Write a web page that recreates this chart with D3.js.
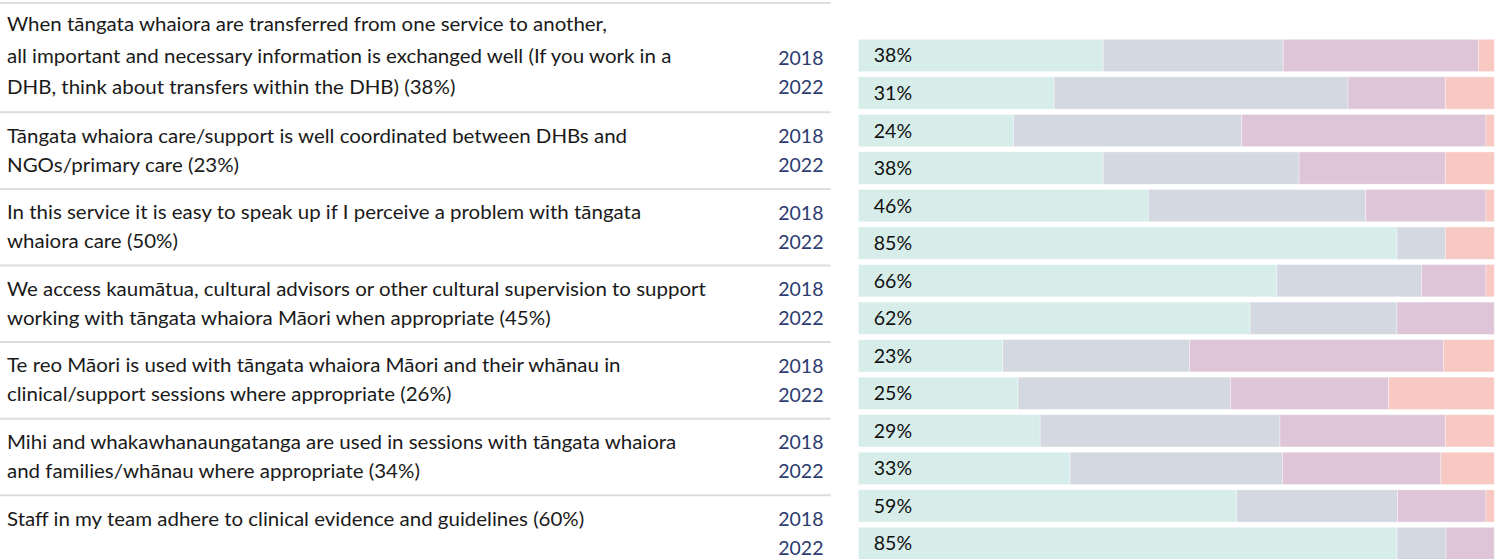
<!DOCTYPE html>
<html><head><meta charset="utf-8">
<script src="https://cdn.jsdelivr.net/npm/d3@7"></script>
<style>html,body{margin:0;padding:0;background:#fff;overflow:hidden;font-family:Lato;} svg{display:block;}</style>
</head><body><svg id="chart" width="1498" height="559"></svg>
<script>
// ---------------- DATA ----------------
const questions = [
  ["When tāngata whaiora are transferred from one service to another,",
   "all important and necessary information is exchanged well (If you work in a",
   "DHB, think about transfers within the DHB) (38%)"],
  ["Tāngata whaiora care/support is well coordinated between DHBs and",
   "NGOs/primary care (23%)"],
  ["In this service it is easy to speak up if I perceive a problem with tāngata",
   "whaiora care (50%)"],
  ["We access kaumātua, cultural advisors or other cultural supervision to support",
   "working with tāngata whaiora Māori when appropriate (45%)"],
  ["Te reo Māori is used with tāngata whaiora Māori and their whānau in",
   "clinical/support sessions where appropriate (26%)"],
  ["Mihi and whakawhanaungatanga are used in sessions with tāngata whaiora",
   "and families/whānau where appropriate (34%)"],
  ["Staff in my team adhere to clinical evidence and guidelines (60%)"]
];
const years = ["2018", "2022"];
const seriesKeys = ["agree", "neutral", "disagree", "stronglyDisagree"];
// one value per bar, in order Q1-2018, Q1-2022, Q2-2018, ...
const agree            = [38.5, 30.8, 24.4, 38.5, 45.6, 84.7, 65.8, 61.6, 22.7, 25.1, 28.6, 33.3, 59.5, 84.7];
const neutral          = [28.3, 46.2, 35.9, 30.8, 34.2,  7.6, 22.8, 23.1, 29.4, 33.4, 37.7, 33.4, 25.3,  7.7];
const disagree         = [30.7, 15.3, 38.4, 23.0, 18.9,  0.0, 10.1, 15.3, 39.9, 24.9, 26.0, 24.9, 13.9,  7.6];
const stronglyDisagree = [ 2.5,  7.7,  1.3,  7.7,  1.3,  7.7,  1.3,  0.0,  8.0, 16.6,  7.7,  8.4,  1.3,  0.0];
const pctLabels = ["38%","31%","24%","38%","46%","85%","66%","62%","23%","25%","29%","33%","59%","85%"];

// ---------------- STYLE ----------------
const colors = {agree:"#D7EDEA", neutral:"#D4D8E1", disagree:"#DEC6D8", stronglyDisagree:"#F8C9C3"};
const FONT = "Lato, 'Open Sans', sans-serif";
const FS = 19.5;
const TARGET_W = 703;   // reference width of the widest label line

const svg = d3.select("#chart");

const rows = agree.map((v, i) => ({
  i, q: Math.floor(i / 2), year: years[i % 2],
  agree: agree[i], neutral: neutral[i], disagree: disagree[i], stronglyDisagree: stronglyDisagree[i],
  label: pctLabels[i]
}));

const x = d3.scaleLinear().domain([0, 100]).range([858.3, 1494.3]);
const step = 37.54;
const y = d3.scaleBand().domain(rows.map(d => d.i))
  .range([39.3 - 0.07 * step, 39.3 - 0.07 * step + 14 * step])
  .paddingInner(0.14).paddingOuter(0.07);

const groupTop = d3.scaleLinear().domain([1, 6]).range([112.3, 112.3 + 5 * 76.6]);
const gTop = k => k === 0 ? 3 : groupTop(k);

// separators
svg.append("g").selectAll("line").data(questions).join("line")
  .attr("x1", 0).attr("x2", 830.7)
  .attr("y1", (d, k) => gTop(k)).attr("y2", (d, k) => gTop(k))
  .attr("stroke", "#DDDDDD").attr("stroke-width", 2);

// question text
const qLines = [];
questions.forEach((lines, k) => lines.forEach((t, j) => qLines.push({
  t, yy: k === 0 ? gTop(k) + 21 + j * 31.5 : gTop(k) + 23.2 + j * 29
})));
const qText = svg.append("g").attr("font-family", FONT).attr("font-size", FS).attr("fill", "#1a1a1a")
  .selectAll("text").data(qLines).join("text")
  .attr("dy", "0.36em")
  .text(d => d.t);

function fit() {
  let maxW = 0;
  qText.each(function () { maxW = Math.max(maxW, this.getComputedTextLength()); });
  const sx = maxW > 0 ? Math.min(1.05, TARGET_W / maxW) : 1;
  qText.attr("transform", d => `translate(7,${d.yy}) scale(${sx},1)`);
}
fit();
requestAnimationFrame(fit);
setTimeout(fit, 60);
setTimeout(fit, 300);
setTimeout(fit, 1000);
if (document.fonts && document.fonts.ready) document.fonts.ready.then(fit);

// years
svg.append("g").attr("font-family", FONT).attr("font-size", FS).attr("fill", "#2C3B70")
  .selectAll("text").data(rows).join("text")
  .attr("x", 823.5).attr("text-anchor", "end")
  .attr("y", d => gTop(d.q) + (d.q === 0 ? 55 : 23.7) + (d.i % 2) * 29)
  .attr("dy", "0.36em")
  .text(d => d.year);

// stacked bars
const stack = d3.stack().keys(seriesKeys)(rows);
svg.append("g").selectAll("g").data(stack).join("g")
  .attr("fill", s => colors[s.key])
  .selectAll("rect").data(s => s).join("rect")
  .attr("x", d => x(d[0]))
  .attr("width", d => Math.max(0, x(d[1]) - x(d[0])))
  .attr("y", d => y(d.data.i))
  .attr("height", y.bandwidth())
  .attr("stroke", "#ffffff").attr("stroke-opacity", 0.45).attr("stroke-width", 0.8);

// percentage labels
svg.append("g").attr("font-family", FONT).attr("font-size", FS).attr("fill", "#111")
  .selectAll("text").data(rows).join("text")
  .attr("x", x(0) + 15.5)
  .attr("y", d => y(d.i) + y.bandwidth() / 2)
  .attr("dy", "0.36em")
  .text(d => d.label);
</script>
</body></html>
